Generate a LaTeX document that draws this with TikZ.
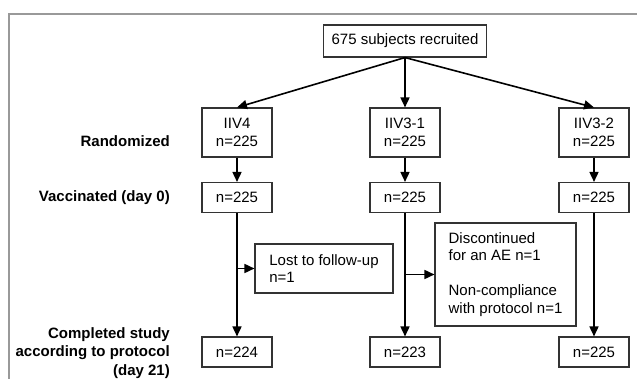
\documentclass[tikz,border=0pt]{standalone}
\usepackage{fontspec}
\setmainfont{Liberation Sans}
\usetikzlibrary{arrows.meta}

\begin{document}
\begin{tikzpicture}[x=1pt,y=-1pt,>={Triangle[length=10pt,width=9pt]},
  grp/.style={draw=black!80,line width=1.1pt,inner sep=0pt,minimum width=70pt,
    minimum height=30pt,align=center,font=\fontsize{15}{18}\selectfont},
  note/.style={draw=black!80,line width=1.1pt,inner sep=0pt,align=left,
    font=\fontsize{15}{17.5}\selectfont},
  stage/.style={anchor=east,align=right,inner sep=0pt,
    font=\bfseries\fontsize{15}{18.5}\selectfont},
  flow/.style={->,line width=1.6pt}]

\useasboundingbox (0,0) rectangle (637,379);
% frame
\draw[black!40,line width=1.8pt] (9,379) -- (9,14) -- (637,14);

\node[grp,minimum width=163pt,minimum height=32pt] (rec) at (405,41) {675 subjects recruited};

% randomized
\node[grp,minimum height=49pt] (r1) at (237,132.5) {IIV4\\n=225};
\node[grp,minimum height=49pt] (r2) at (405,132.5) {IIV3-1\\n=225};
\node[grp,minimum height=49pt] (r3) at (594,132.5) {IIV3-2\\n=225};

% vaccinated
\node[grp] (v1) at (237,197.5) {n=225};
\node[grp] (v2) at (405,197.5) {n=225};
\node[grp] (v3) at (594,197.5) {n=225};

% completed
\node[grp] (c1) at (237,352) {n=224};
\node[grp] (c2) at (405,352) {n=223};
\node[grp] (c3) at (594,352) {n=225};

% withdrawals
\node[note,minimum width=138pt,minimum height=49pt] (lost) at (324,268.5) {Lost to follow-up\\n=1};
\node[note,minimum width=141pt,minimum height=103pt] (disc) at (505.5,274.5)
  {Discontinued\\for an AE n=1\\[17.5pt]Non-compliance\\with protocol n=1};

% row labels
\node[stage] (lr) at (170,141) {Randomized};
\node[stage] (lv) at (170,198) {Vaccinated (day 0)};
\node[stage] (lc) at (170,353) {Completed study\\according to protocol\\(day 21)};

\draw[flow] (rec.south) -- (r1.north);
\draw[flow] (rec.south) -- (r2.north);
\draw[flow] (rec.south) -- (r3.north);

\foreach \i in {1,2,3} {
  \draw[flow] (r\i) -- (v\i);
  \draw[flow] (v\i) -- (c\i);
}

\coordinate (b1) at (v1.south |- lost.west);
\coordinate (b2) at (v2.south |- disc.west);
\draw[flow] (b1) -- (lost.west);
\draw[flow] (b2) -- (disc.west);
\end{tikzpicture}
\end{document}
